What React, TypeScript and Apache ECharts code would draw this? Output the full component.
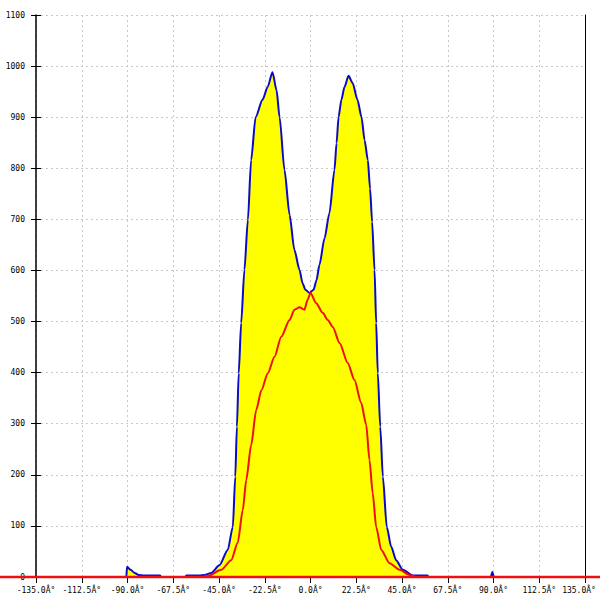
import React, { useEffect, useRef } from "react";
import * as echarts from "echarts";

const blueAngles = [-135, -90.6, -90.2, -88.5, -86.5, -84.5, -82, -74, -73.6, -61.5, -61, -55, -52, -48.8, -44.8, -40.7, -38.2, -37.0, -36.2, -35.3, -34.1, -32.5, -30.8, -29.2, -27.0, -23.6, -21.1, -18.7, -16.7, -15.2, -12.8, -10.3, -7.9, -5.4, -3.9, -2.5, -0.5, 1.5, 2.95, 4.4, 6.9, 9.3, 11.8, 12.8, 13.8, 15.2, 16.7, 18.7, 20.7, 23.1, 25.1, 26.6, 28.2, 29.3, 30.3, 31.5, 32.3, 33.1, 34.3, 35.6, 37.5, 39.7, 42.1, 45.4, 50.3, 57.5, 58, 88.7, 89.4, 90.2, 135];
const blueValues = [0, 0, 20, 14, 8, 4, 3, 3, 0, 0, 3, 3, 4, 8, 23, 53, 98, 196, 294, 399, 497, 601, 699, 816, 900, 934, 959, 988, 953, 900, 797, 709, 640, 601, 575, 562, 556, 562, 581, 611, 663, 712, 797, 849, 900, 934, 959, 981, 967, 934, 900, 855, 816, 760, 695, 601, 497, 399, 294, 196, 98, 59, 33, 14, 3, 3, 0, 0, 10, 0, 0];

const redAngles = [-135, -53, -50.5, -43.9, -39.0, -35.8, -33.3, -31.6, -29.2, -26.7, -24.1, -21.0, -17.7, -14.4, -10.3, -7.9, -5.4, -3.0, -1.5, 0, 2.8, 6.0, 8.5, 11.0, 14.3, 18.3, 21.6, 24.9, 27.4, 29.0, 30.6, 32.3, 34.8, 38.9, 43.8, 48.7, 52, 135];
const redValues = [0, 0, 2, 14, 33, 67, 131, 190, 258, 327, 366, 399, 431, 470, 503, 523, 528, 523, 542, 556, 536, 517, 503, 489, 458, 419, 386, 341, 298, 229, 164, 98, 53, 27, 14, 4, 0, 0];

const xMin = -135;
const xMax = 135;
const xStep = 22.5;
const yMin = 0;
const yMax = 1100;
const yStep = 100;

const labelFont = "DejaVu Sans Mono";

export default function App() {
  const ref = useRef<HTMLDivElement>(null);
  useEffect(() => {
    if (!ref.current) return;
    const chart = echarts.init(ref.current, null, { renderer: "svg" });
    const blue = blueAngles.map((a, i) => [a, blueValues[i]]);
    const red = redAngles.map((a, i) => [a, redValues[i]]);
    const yBase = { type: "value", min: yMin, max: yMax, interval: yStep };
    chart.setOption({
      animation: false,
      backgroundColor: "#ffffff",
      grid: { left: 36, right: 15, top: 15, bottom: 23, containLabel: false, outerBoundsMode: "none" },
      xAxis: {
        type: "value",
        min: xMin,
        max: xMax,
        interval: xStep,
        axisLine: { show: true, onZero: false, lineStyle: { color: "#000", width: 1 } },
        axisTick: { show: true, length: 6, lineStyle: { color: "#000" } },
        axisLabel: {
          color: "#000",
          fontFamily: labelFont,
          fontSize: 8,
          margin: 9,
          formatter: (v: number) => {
            const t = v.toFixed(1) + "Â°";
            return v >= xMax ? "{e|" + t + "}" : t;
          },
          rich: {
            e: { fontFamily: labelFont, fontSize: 8, color: "#000", padding: [0, 12, 0, 0] },
          },
        },
        splitLine: { show: true, lineStyle: { color: "#c8c8c8", type: [2, 3], width: 1 } },
      },
      yAxis: [
        {
          ...yBase,
          position: "left",
          axisLine: { show: true, onZero: false, lineStyle: { color: "#000", width: 1.5 } },
          axisTick: { show: true, length: 5, lineStyle: { color: "#000" } },
          axisLabel: {
            color: "#000",
            fontFamily: labelFont,
            fontSize: 8,
            margin: 11,
            formatter: (v: number) => String(v),
          },
          splitLine: { show: true, lineStyle: { color: "#c8c8c8", type: [2, 3], width: 1 } },
        },
        {
          ...yBase,
          position: "left",
          axisLine: { show: false, onZero: false },
          axisTick: { show: true, inside: true, length: 5, lineStyle: { color: "#000" } },
          axisLabel: { show: false },
          splitLine: { show: false },
        },
        {
          ...yBase,
          position: "right",
          axisLine: { show: true, onZero: false, lineStyle: { color: "#000", width: 1 } },
          axisTick: { show: false },
          axisLabel: { show: false },
          splitLine: { show: false },
        },
      ],
      series: [
        {
          type: "line",
          data: blue,
          showSymbol: false,
          symbol: "none",
          smooth: 0.25,
          smoothMonotone: "x",
          lineStyle: { color: "#0a0ac8", width: 2 },
          areaStyle: { color: "#ffff00", opacity: 1 },
          z: 2,
        },
        {
          type: "line",
          data: red,
          showSymbol: false,
          symbol: "none",
          smooth: 0.25,
          smoothMonotone: "x",
          lineStyle: { color: "#ee1010", width: 2 },
          z: 3,
        },
      ],
    });
    // extend the red baseline across the whole picture, at the pixel of value 0
    const p = chart.convertToPixel({ gridIndex: 0 }, [xMin, yMin]) as number[];
    if (p && isFinite(p[1])) {
      chart.setOption({
        graphic: [
          {
            type: "line",
            shape: { x1: 0, y1: p[1], x2: 600, y2: p[1] },
            style: { stroke: "#ee1010", lineWidth: 2.5 },
            z: 10,
          },
        ],
      });
    }
    return () => chart.dispose();
  }, []);
  return <div ref={ref} style={{ width: 600, height: 600, position: "absolute", left: 0, top: 0 }} />;
}
